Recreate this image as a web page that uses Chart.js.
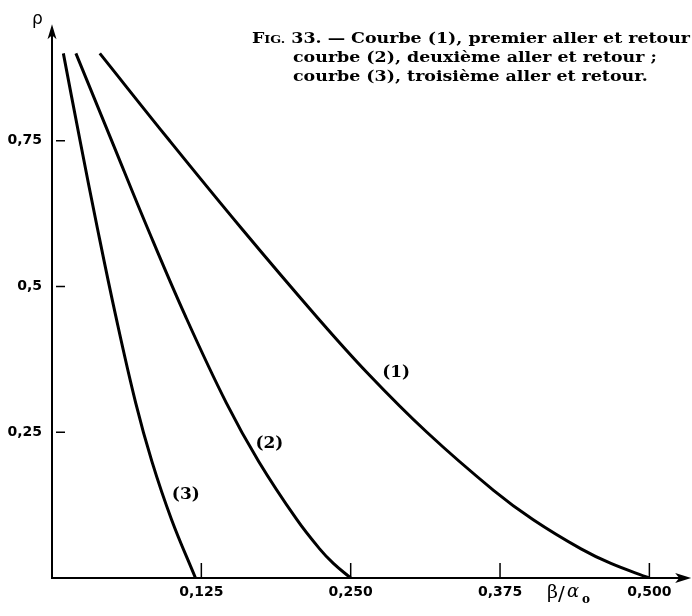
<!DOCTYPE html>
<html>
<head>
<meta charset="utf-8">
<script src="https://cdn.jsdelivr.net/npm/chart.js@4.4.0/dist/chart.umd.min.js"></script>
<style>
html, body { margin: 0; padding: 0; background: #fff; }
#wrap { width: 692px; height: 616px; }
</style>
</head>
<body>
<div id="wrap"><canvas id="grafico"></canvas></div>
<script>
// valeurs : beta/alpha0 en abscisse, rho en ordonnée
const beta1 = [0.040, 0.0985, 0.1585, 0.2208, 0.2648, 0.3138, 0.3698, 0.4028, 0.4428, 0.4678, 0.500]
const rho1  = [0.900, 0.750, 0.600, 0.450, 0.350, 0.250, 0.150, 0.100, 0.050, 0.025, 0.000]

const beta2 = [0.020, 0.050, 0.080, 0.1115, 0.146, 0.173, 0.205, 0.224, 0.2355, 0.250]
const rho2  = [0.900, 0.750, 0.600, 0.450, 0.300, 0.200, 0.100, 0.050, 0.025, 0.000]

const beta3 = [0.0095, 0.0235, 0.0380, 0.0533, 0.0701, 0.0836, 0.1001, 0.1201]
const rho3  = [0.900, 0.750, 0.600, 0.450, 0.300, 0.200, 0.100, 0.000]

const xTicks = [0.125, 0.25, 0.375, 0.5]
const xTickLabels = ['0,125', '0,250', '0,375', '0,500']
const yTicks = [0.25, 0.5, 0.75]
const yTickLabels = ['0,25', '0,5', '0,75']

const nomsCourbes = ['(1)', '(2)', '(3)']
const legende = [
    'Courbe (1), premier aller et retour',
    'courbe (2), deuxième aller et retour ;',
    'courbe (3), troisième aller et retour.'
]

const pts = (xs, ys) => xs.map((x, i) => ({ x: x, y: ys[i] }))

const courbe = (xs, ys) => ({
    data: pts(xs, ys),
    showLine: true,
    borderColor: '#000',
    borderWidth: 3,
    pointRadius: 0,
    tension: 0.4,
    fill: false
})

// texte étiré horizontalement (la police d'origine est plus large)
function texteLarge(ctx, txt, x, y, k) {
    ctx.save()
    ctx.translate(x, y)
    ctx.scale(k, 1)
    ctx.fillText(txt, 0, 0)
    ctx.restore()
    return ctx.measureText(txt).width * k
}

// axes avec flèches, graduations, textes
const dessinFigure = {
    id: 'dessinFigure',
    afterDraw(chart) {
        const ctx = chart.ctx
        const sx = chart.scales.x, sy = chart.scales.y
        const x0 = sx.getPixelForValue(0), y0 = sy.getPixelForValue(0)
        const yTop = sy.getPixelForValue(0.95)
        const xEnd = sx.getPixelForValue(0.535)

        ctx.save()
        ctx.strokeStyle = '#000'
        ctx.fillStyle = '#000'
        ctx.lineWidth = 2
        ctx.beginPath()
        ctx.moveTo(x0, y0)
        ctx.lineTo(x0, yTop + 4)
        ctx.moveTo(x0 - 1, y0)
        ctx.lineTo(xEnd - 4, y0)
        ctx.stroke()

        // flèches
        ctx.beginPath()
        ctx.moveTo(x0, yTop)
        ctx.lineTo(x0 - 4.5, yTop + 15)
        ctx.lineTo(x0, yTop + 11)
        ctx.lineTo(x0 + 4.5, yTop + 15)
        ctx.closePath()
        ctx.fill()
        ctx.beginPath()
        ctx.moveTo(xEnd, y0)
        ctx.lineTo(xEnd - 16, y0 - 5)
        ctx.lineTo(xEnd - 12, y0)
        ctx.lineTo(xEnd - 16, y0 + 5)
        ctx.closePath()
        ctx.fill()

        // graduations vers l'intérieur
        ctx.lineWidth = 1.5
        ctx.beginPath()
        yTicks.forEach(v => {
            const p = sy.getPixelForValue(v)
            ctx.moveTo(x0 + 4, p)
            ctx.lineTo(x0 + 13, p)
        })
        xTicks.forEach(v => {
            const p = sx.getPixelForValue(v)
            ctx.moveTo(p, y0)
            ctx.lineTo(p, y0 - 15)
        })
        ctx.stroke()

        // noms des axes
        ctx.textBaseline = 'alphabetic'
        ctx.textAlign = 'left'
        ctx.font = '17px "DejaVu Sans"'
        ctx.fillText('ρ', 32, 24)

        ctx.font = '19px "DejaVu Serif"'
        ctx.fillText('β', 547, 598)
        ctx.font = '20px "DejaVu Sans"'
        ctx.fillText('/', 558, 600)
        ctx.font = 'italic 18px "DejaVu Serif"'
        ctx.fillText('α', 567, 597)
        ctx.font = 'bold 12px "DejaVu Serif"'
        ctx.fillText('o', 582, 603)

        // numéros des courbes
        ctx.font = 'bold 17px "DejaVu Serif"'
        ctx.textAlign = 'center'
        ctx.textBaseline = 'middle'
        const posNoms = [[0.288, 0.353], [0.182, 0.230], [0.112, 0.143]]
        nomsCourbes.forEach((t, i) => {
            ctx.fillText(t, sx.getPixelForValue(posNoms[i][0]), sy.getPixelForValue(posNoms[i][1]))
        })

        // légende de la figure
        ctx.textAlign = 'left'
        ctx.textBaseline = 'alphabetic'
        const taille = 15
        const police = 'bold ' + taille + 'px "DejaVu Serif"'
        const petite = 'bold ' + Math.round(taille * 0.72) + 'px "DejaVu Serif"'
        const debut = ' 33. — '
        // largeur totale de la première ligne pour l'étirement
        ctx.font = police
        let w = ctx.measureText('F' + debut + legende[0]).width
        ctx.font = petite
        w += ctx.measureText('IG.').width
        const k = 438 / w

        let x = 252
        ctx.font = police
        x += texteLarge(ctx, 'F', x, 43, k)
        ctx.font = petite
        x += texteLarge(ctx, 'IG.', x, 43, k)
        ctx.font = police
        texteLarge(ctx, debut + legende[0], x, 43, k)
        texteLarge(ctx, legende[1], 293, 62, k)
        texteLarge(ctx, legende[2], 293, 81, k)
        ctx.restore()
    }
}

new Chart(document.getElementById('grafico'), {
    type: 'scatter',
    data: {
        datasets: [courbe(beta1, rho1), courbe(beta2, rho2), courbe(beta3, rho3)]
    },
    options: {
        responsive: true,
        maintainAspectRatio: false,
        animation: false,
        layout: { padding: { top: 8, right: 2, left: 0, bottom: 0 } },
        plugins: {
            legend: { display: false },
            tooltip: { enabled: false }
        },
        scales: {
            x: {
                type: 'linear',
                min: 0,
                max: 0.534,
                grid: { display: false, drawTicks: false },
                border: { display: false },
                afterBuildTicks: s => { s.ticks = xTicks.map(v => ({ value: v })) },
                afterFit: s => { s.height = 38 },
                ticks: {
                    color: '#000',
                    padding: 6,
                    maxRotation: 0,
                    font: { family: 'DejaVu Sans', weight: 'bold', size: 14 },
                    callback: v => xTickLabels[xTicks.indexOf(v)]
                }
            },
            y: {
                type: 'linear',
                min: 0,
                max: 0.96,
                grid: { display: false, drawTicks: false },
                border: { display: false },
                afterBuildTicks: s => { s.ticks = yTicks.map(v => ({ value: v })) },
                afterFit: s => { s.width = 52 },
                ticks: {
                    color: '#000',
                    padding: 10,
                    font: { family: 'DejaVu Sans', weight: 'bold', size: 14 },
                    callback: v => yTickLabels[yTicks.indexOf(v)]
                }
            }
        }
    },
    plugins: [dessinFigure]
})
</script>
</body>
</html>
